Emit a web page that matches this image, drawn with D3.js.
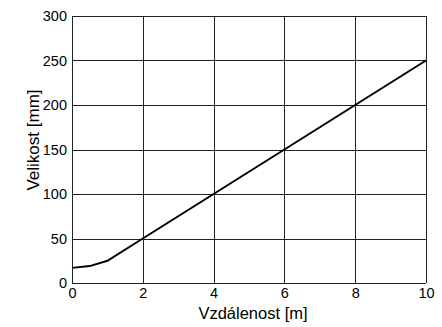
<!DOCTYPE html>
<html><head><meta charset="utf-8">
<script src="https://cdn.jsdelivr.net/npm/d3@7"></script>
<style>body{margin:0;background:#fff}svg{display:block}text{font-family:"Liberation Sans",Arial,sans-serif}</style>
</head><body>
<svg id="c" width="442" height="327"></svg>
<script>
const distance = [0, 0.5, 1, 2, 4, 6, 8, 10];
const size = [17, 19, 25, 50, 100, 150, 200, 250];
const xTicks = [0, 2, 4, 6, 8, 10];
const yTicks = [0, 50, 100, 150, 200, 250, 300];
const xLabel = "Vzdálenost [m]";
const yLabel = "Velikost [mm]";

const svg = d3.select("#c");
const m = {l: 72, r: 16, t: 16, b: 44};
const W = 442, H = 327;
const x = d3.scaleLinear().domain([0, 10]).range([m.l, W - m.r]);
const y = d3.scaleLinear().domain([0, 300]).range([H - m.b, m.t]);

const g = svg.append("g");
// grid
g.selectAll(".vg").data(xTicks).join("line")
  .attr("x1", d => Math.round(x(d)) + 0.5).attr("x2", d => Math.round(x(d)) + 0.5)
  .attr("y1", y(0)).attr("y2", y(300)).attr("stroke", "#222").attr("stroke-width", 1);
g.selectAll(".hg").data(yTicks).join("line")
  .attr("y1", d => Math.round(y(d)) + 0.5).attr("y2", d => Math.round(y(d)) + 0.5)
  .attr("x1", x(0)).attr("x2", x(10)).attr("stroke", "#222").attr("stroke-width", 1);

// axes (labels only)
const xa = svg.append("g").attr("transform", `translate(0,${y(0)})`)
  .call(d3.axisBottom(x).tickValues(xTicks).tickSize(0).tickPadding(5));
const ya = svg.append("g").attr("transform", `translate(${x(0)},0)`)
  .call(d3.axisLeft(y).tickValues(yTicks).tickSize(0).tickPadding(5));
[xa, ya].forEach(a => {
  a.select(".domain").remove();
  a.selectAll("text").attr("font-size", 14.5).attr("fill", "#000")
    .attr("font-family", '"Liberation Sans",Arial,sans-serif');
});

// line
svg.append("path")
  .datum(distance.map((d, i) => [d, size[i]]))
  .attr("fill", "none").attr("stroke", "#000").attr("stroke-width", 2)
  .attr("d", d3.line().x(d => x(d[0])).y(d => y(d[1])));

// titles
svg.append("text").attr("x", 253).attr("y", 319)
  .attr("text-anchor", "middle").attr("font-size", 16.5).text(xLabel);
svg.append("text").attr("transform", `translate(38.5,140) rotate(-90)`)
  .attr("text-anchor", "middle").attr("font-size", 17).text(yLabel);
</script>
</body></html>
